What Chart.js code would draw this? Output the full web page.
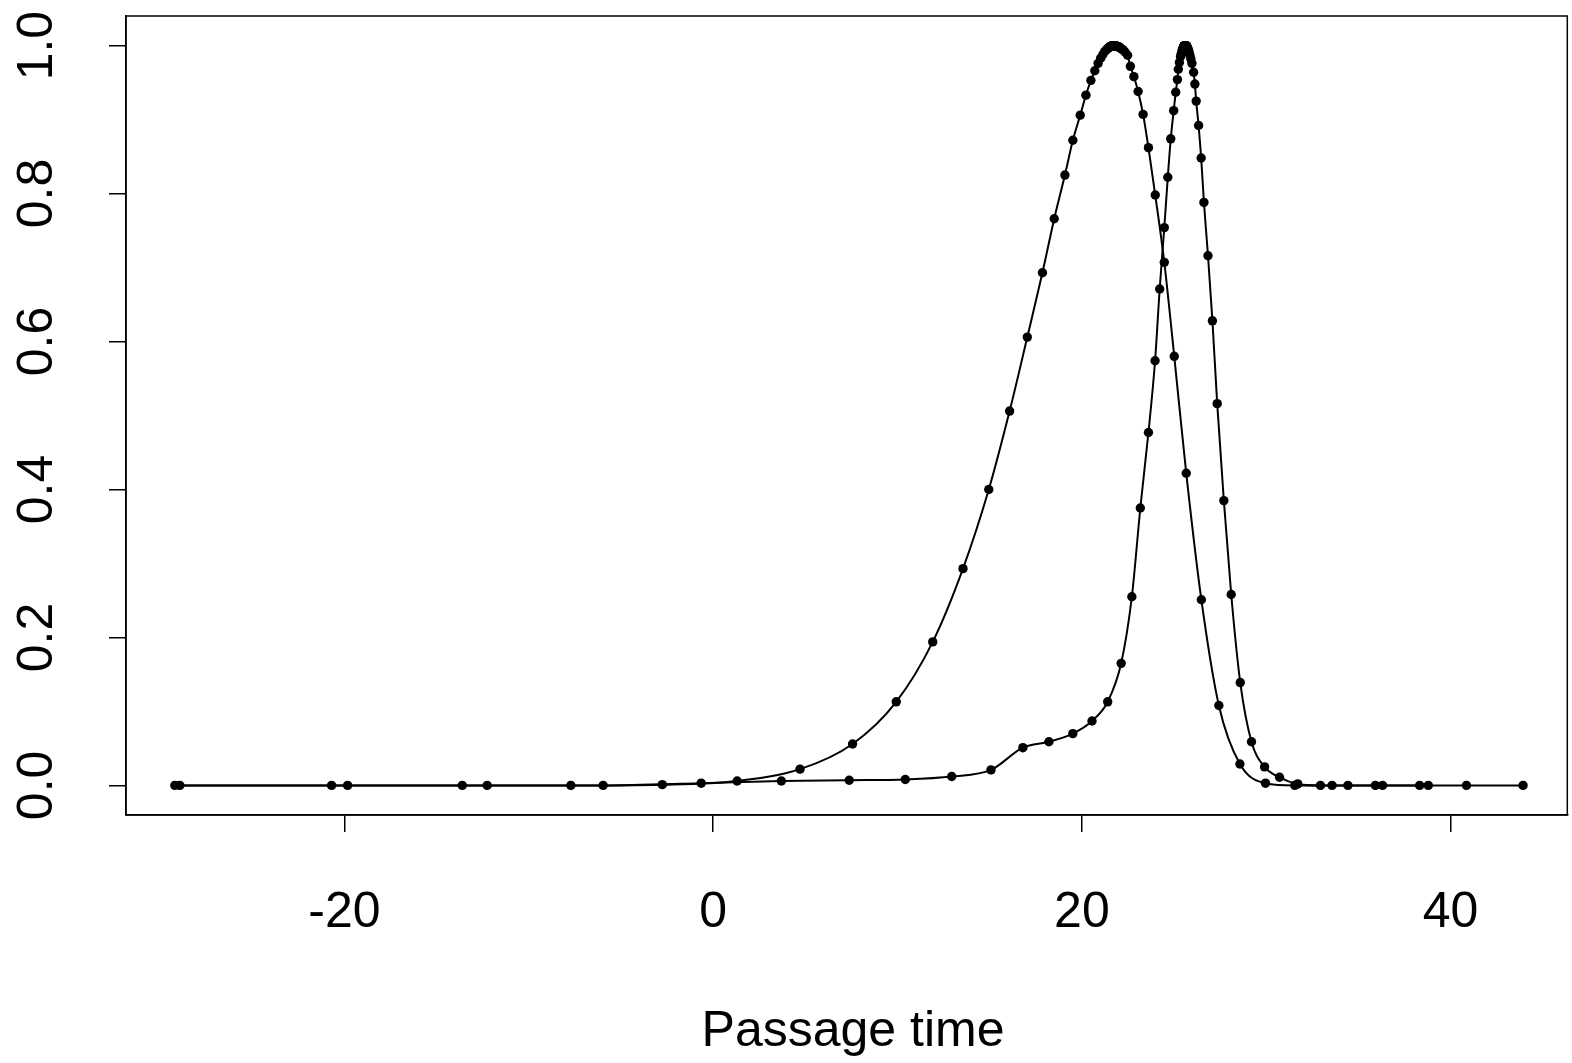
<!DOCTYPE html>
<html>
<head>
<meta charset="utf-8">
<script src="https://cdn.jsdelivr.net/npm/chart.js@4/dist/chart.umd.min.js"></script>
<style>
  html, body { margin: 0; padding: 0; background: #fff; }
  canvas { display: block; }
</style>
</head>
<body>
<canvas id="c" width="1572" height="1063"></canvas>
<script>
// ---- data ----
const xTitle = "Passage time";
const xTickValues = [-20, 0, 20, 40];
const xTickLabels = ["-20", "0", "20", "40"];
const yTickValues = [0, 0.2, 0.4, 0.6, 0.8, 1.0];
const yTickLabels = ["0.0", "0.2", "0.4", "0.6", "0.8", "1.0"];

// Wide curve
const aX = [-29.20, -20.70, -13.61, -7.72, -2.76, 1.30, 4.71, 7.56, 9.93, 11.91,
  13.55, 14.95, 16.08, 17.04, 17.86, 18.50, 19.08, 19.51, 19.91, 20.22,
  20.49, 20.70, 20.88, 21.02, 21.14, 21.24, 21.32, 21.39, 21.45, 21.49,
  21.53, 21.57, 21.60, 21.62, 21.64, 21.65, 21.67, 21.69, 21.71, 21.73,
  21.75, 21.77, 21.79, 21.81, 21.83, 21.85, 21.87, 21.90, 21.94, 21.98,
  22.03, 22.09, 22.16, 22.25, 22.35, 22.48, 22.63, 22.82, 23.05, 23.32,
  23.61, 23.98, 24.47, 25.01, 25.66, 26.48, 27.43, 28.57, 29.96, 31.55,
  33.57, 35.92, 38.79];
const aY = [0, 0, 0, 0, 0.001, 0.006, 0.022, 0.056, 0.113, 0.194,
  0.293, 0.400, 0.506, 0.606, 0.693, 0.766, 0.825, 0.872, 0.906, 0.933,
  0.953, 0.966, 0.976, 0.983, 0.988, 0.992, 0.994, 0.996, 0.997, 0.998,
  0.999, 0.999, 0.999, 1.0, 1.0, 1.0, 1.0, 1.0, 1.0, 1.0,
  1.0, 1.0, 1.0, 1.0, 1.0, 1.0, 0.999, 0.999, 0.999, 0.998,
  0.998, 0.997, 0.995, 0.994, 0.991, 0.987, 0.972, 0.958, 0.938, 0.907,
  0.862, 0.798, 0.707, 0.580, 0.422, 0.251, 0.108, 0.029, 0.003, 0,
  0, 0, 0];

// Narrow curve
const bX = [-28.93, -19.83, -12.26, -5.97, -0.65, 3.70, 7.38, 10.42, 12.94, 15.07,
  16.80, 18.21, 19.51, 20.55, 21.40, 22.13, 22.71, 23.17, 23.61, 23.97,
  24.22, 24.47, 24.66, 24.82, 24.98, 25.09, 25.18, 25.23, 25.29, 25.35,
  25.39, 25.43, 25.46, 25.49, 25.51, 25.53, 25.54, 25.55, 25.56, 25.57,
  25.58, 25.59, 25.60, 25.61, 25.62, 25.63, 25.64, 25.65, 25.66, 25.67,
  25.69, 25.71, 25.73, 25.75, 25.78, 25.82, 25.86, 25.91, 25.97, 26.06,
  26.13, 26.20, 26.33, 26.47, 26.62, 26.84, 27.08, 27.34, 27.70, 28.10,
  28.59, 29.20, 29.91, 30.72, 31.71, 32.94, 34.43, 36.31, 38.32, 40.86,
  43.93];
const bY = [0, 0, 0, 0, 0.003, 0.006, 0.007, 0.008, 0.012, 0.021,
  0.051, 0.059, 0.070, 0.087, 0.113, 0.165, 0.255, 0.375, 0.477, 0.574,
  0.671, 0.754, 0.822, 0.874, 0.912, 0.937, 0.954, 0.968, 0.977, 0.985,
  0.989, 0.993, 0.995, 0.997, 0.998, 0.999, 0.999, 1.0, 1.0, 1.0,
  1.0, 1.0, 1.0, 1.0, 1.0, 1.0, 1.0, 1.0, 1.0, 1.0,
  0.999, 0.998, 0.997, 0.996, 0.994, 0.991, 0.987, 0.982, 0.976, 0.964,
  0.948, 0.925, 0.892, 0.848, 0.788, 0.716, 0.628, 0.516, 0.385, 0.258,
  0.139, 0.059, 0.025, 0.011, 0.002, 0, 0, 0, 0, 0,
  0];

const toPts = (xs, ys) => xs.map((x, i) => ({ x: x, y: ys[i] }));

const FONT = "'Liberation Sans', Arial, Helvetica, sans-serif";

const boxAndLabels = {
  id: 'boxAndLabels',
  afterDraw(chart) {
    const ctx = chart.ctx;
    const a = chart.chartArea;
    const xs = chart.scales.x, ys = chart.scales.y;
    ctx.save();
    ctx.strokeStyle = '#000';
    ctx.lineWidth = 1.5;
    ctx.strokeRect(a.left, a.top, a.right - a.left, a.bottom - a.top);
    ctx.fillStyle = '#000';
    ctx.font = '50px ' + FONT;
    ctx.textAlign = 'center';
    ctx.textBaseline = 'alphabetic';
    xTickValues.forEach((v, i) => {
      ctx.fillText(xTickLabels[i], xs.getPixelForValue(v), 927);
    });
    yTickValues.forEach((v, i) => {
      ctx.save();
      ctx.translate(52, ys.getPixelForValue(v));
      ctx.rotate(-Math.PI / 2);
      ctx.fillText(yTickLabels[i], 0, 0);
      ctx.restore();
    });
    ctx.fillText(xTitle, 853, 1046);
    ctx.restore();
  }
};

const ds = (xs, ys) => ({
  data: toPts(xs, ys),
  borderColor: '#000',
  borderWidth: 2,
  pointRadius: 4.7,
  pointBorderWidth: 0,
  pointBackgroundColor: '#000',
  pointHoverRadius: 4.7,
  cubicInterpolationMode: 'monotone',
  fill: false
});

new Chart(document.getElementById('c'), {
  type: 'line',
  data: { datasets: [ds(aX, aY), ds(bX, bY)] },
  options: {
    responsive: false,
    animation: false,
    devicePixelRatio: 1,
    events: [],
    layout: { padding: { top: 16, right: 2, left: 0, bottom: 0 } },
    plugins: { legend: { display: false }, tooltip: { enabled: false }, title: { display: false } },
    scales: {
      x: {
        type: 'linear',
        position: 'bottom',
        min: -31.85,
        max: 46.33,
        afterBuildTicks: s => { s.ticks = xTickValues.map(v => ({ value: v })); },
        afterFit: s => { s.height = 248; },
        grid: { drawOnChartArea: false, drawTicks: true, tickLength: 17, color: '#000', lineWidth: 1.5 },
        border: { display: true, color: '#000', width: 1.5 },
        ticks: { display: false }
      },
      y: {
        type: 'linear',
        position: 'left',
        min: -0.04,
        max: 1.04,
        afterBuildTicks: s => { s.ticks = yTickValues.map(v => ({ value: v })); },
        afterFit: s => { s.width = 126; },
        grid: { drawOnChartArea: false, drawTicks: true, tickLength: 17, color: '#000', lineWidth: 1.5 },
        border: { display: true, color: '#000', width: 1.5 },
        ticks: { display: false }
      }
    }
  },
  plugins: [boxAndLabels]
});
</script>
</body>
</html>
